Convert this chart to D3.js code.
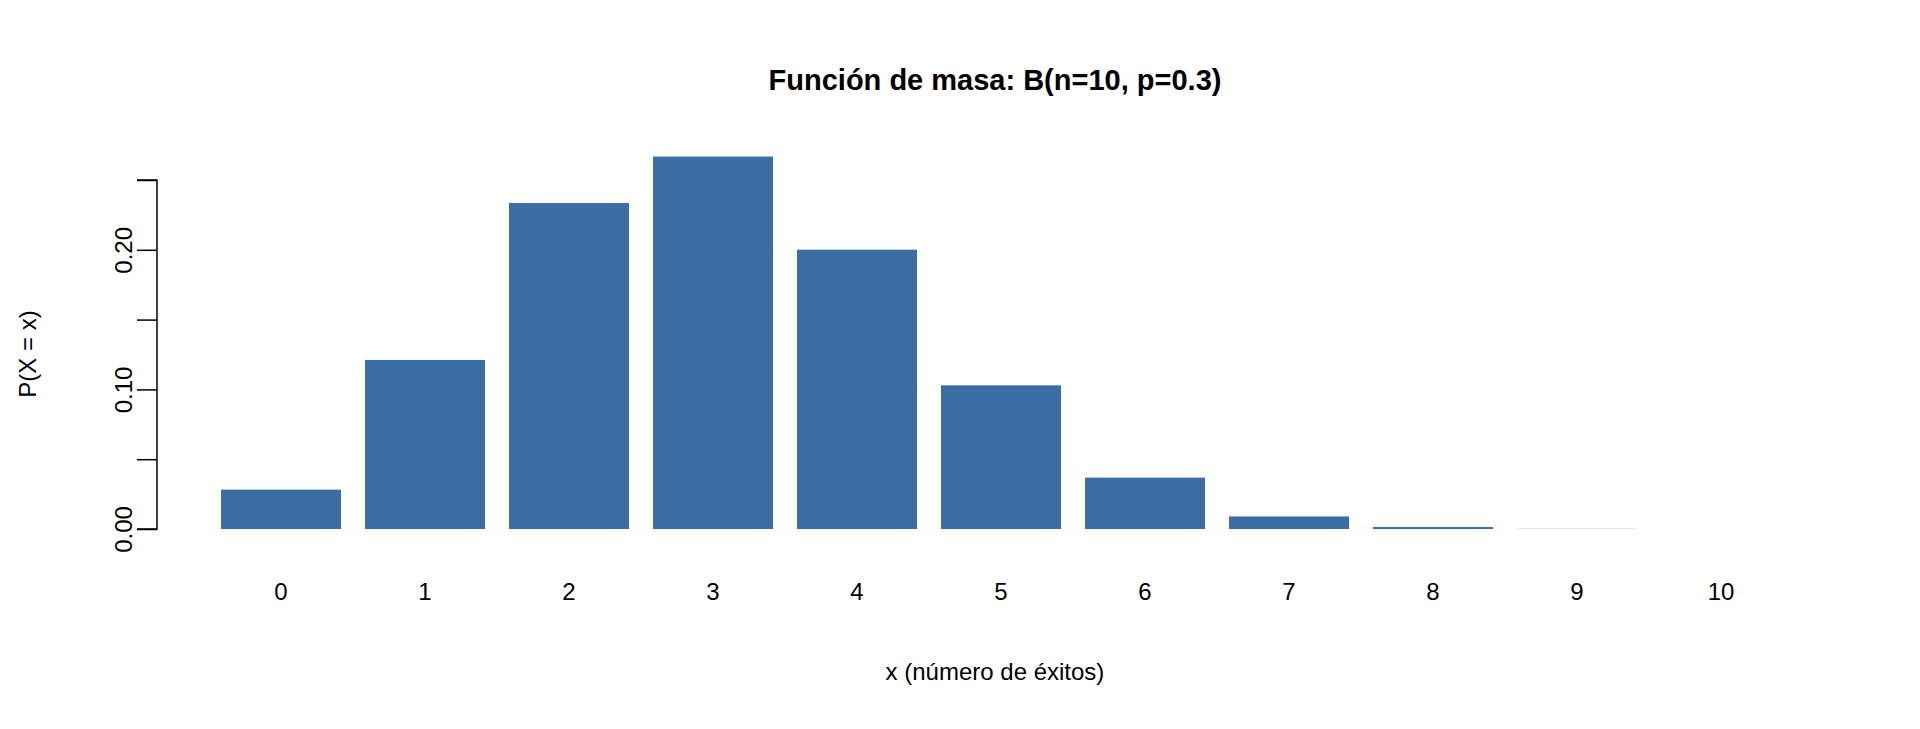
<!DOCTYPE html>
<html><head><meta charset="utf-8">
<script src="https://cdn.jsdelivr.net/npm/d3@7"></script>
<style>body{margin:0;background:#fff}text{font-family:"Liberation Sans",Arial,sans-serif}</style>
</head><body><svg id="c" width="1920" height="729"></svg>
<script>
const categories = ["0","1","2","3","4","5","6","7","8","9","10"]
const probs = [0.0282, 0.1211, 0.2335, 0.2668, 0.2001, 0.1029, 0.0368, 0.0090, 0.0014, 0.0001, 0.0000]
const yTicks = [0, 0.05, 0.10, 0.15, 0.20, 0.25]
const yLabels = ["0.00", "0.10", "0.20"]

const svg = d3.select("#c")
// R barplot units: width 1, space 0.2
const x = d3.scaleLinear().domain([0, 1]).range([197, 317])
const y = d3.scaleLinear().domain([0, 0.25]).range([529, 180])
const col = "#3a6ea5"

svg.append("g").selectAll("rect").data(probs).join("rect")
  .attr("x", (d, i) => x(0.2 + 1.2 * i))
  .attr("width", x(1) - x(0))
  .attr("y", d => y(d))
  .attr("height", d => y(0) - y(d))
  .attr("fill", col)

const ax = svg.append("g").attr("transform", "translate(157,0)")
  .call(d3.axisLeft(y).tickValues(yTicks).tickSize(20)
    .tickFormat(d => yLabels.includes(d3.format(".2f")(d)) ? d3.format(".2f")(d) : ""))
ax.select(".domain").attr("stroke-width", 1.5).attr("d", `M-20,${y(0.25)}H0V${y(0)}H-20`)
ax.selectAll(".tick line").attr("stroke-width", 1.5)
ax.selectAll(".tick text").attr("font-size", 24).attr("fill", "#000")
  .attr("transform", d => `translate(-25,0) rotate(-90)`)
  .attr("x", 0).attr("dy", "0").attr("text-anchor", "middle")

svg.append("g").selectAll("text").data(categories).join("text")
  .attr("x", (d, i) => x(0.2 + 1.2 * i + 0.5)).attr("y", 600)
  .attr("text-anchor", "middle").attr("font-size", 24).text(d => d)

svg.append("text").attr("x", 995).attr("y", 90).attr("text-anchor", "middle")
  .attr("font-size", 29).attr("font-weight", "bold").text("Función de masa: B(n=10, p=0.3)")
svg.append("text").attr("x", 995).attr("y", 680).attr("text-anchor", "middle")
  .attr("font-size", 24).text("x (número de éxitos)")
svg.append("text").attr("transform", "translate(36,354) rotate(-90)").attr("text-anchor", "middle")
  .attr("font-size", 24).text("P(X = x)")
</script></body></html>
